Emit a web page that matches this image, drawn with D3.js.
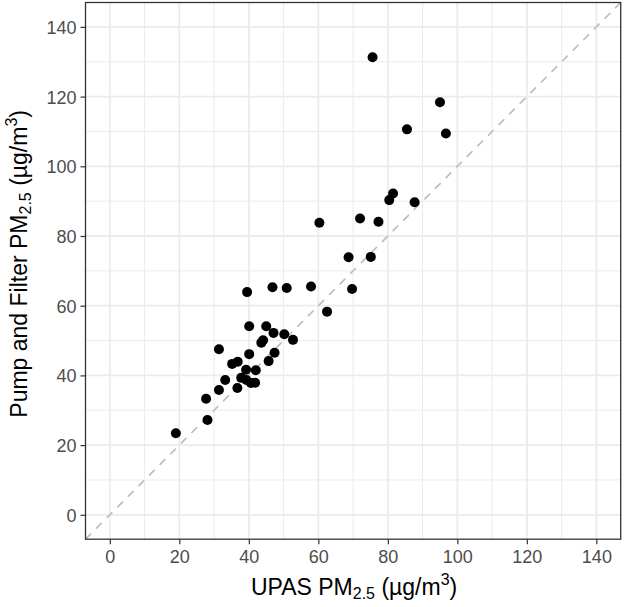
<!DOCTYPE html>
<html>
<head>
<meta charset="utf-8">
<script src="https://cdn.jsdelivr.net/npm/d3@7"></script>
<style>
  html, body { margin: 0; padding: 0; background: #fff; }
  svg { display: block; font-family: "Liberation Sans", Arial, sans-serif; }
</style>
</head>
<body>
<svg id="chart" width="625" height="607"></svg>
<script>
// UPAS PM2.5 (x) vs Pump and Filter PM2.5 (y), µg/m3
const upas = [75.6, 95.0, 85.5, 96.7, 81.5, 80.4, 87.7, 60.3, 72.0, 77.3,
              68.7, 75.1, 57.9, 69.7, 62.5, 39.5, 46.8, 50.9, 40.1, 45.0,
              47.1, 50.2, 52.7, 43.6, 44.1, 31.4, 40.1, 47.4, 45.7, 35.2,
              36.8, 39.2, 42.0, 33.2, 37.8, 39.3, 40.6, 41.8, 36.7, 31.4,
              27.7, 28.1, 19.0];
const pump = [131.3, 118.4, 110.6, 109.4, 92.2, 90.3, 89.7, 83.8, 85.0, 84.1,
              73.9, 74.0, 65.5, 64.8, 58.3, 63.9, 65.3, 65.1, 54.1, 54.1,
              52.2, 51.8, 50.2, 49.4, 50.1, 47.5, 46.1, 46.5, 44.1, 43.3,
              43.9, 41.6, 41.5, 38.7, 39.3, 38.7, 37.8, 37.9, 36.4, 35.8,
              33.3, 27.2, 23.4];
const majorTicks = [0, 20, 40, 60, 80, 100, 120, 140];
const minorTicks = [10, 30, 50, 70, 90, 110, 130];
const domain = [-7, 147];

const svg = d3.select("#chart");
const pL = 85.5, pR = 620.7, pT = 2.5, pB = 539.2;
const x = d3.scaleLinear().domain(domain).range([pL, pR]);
const y = d3.scaleLinear().domain(domain).range([pB, pT]);

// panel background
svg.append("rect").attr("x", pL).attr("y", pT)
  .attr("width", pR - pL).attr("height", pB - pT).attr("fill", "#fff");

const grid = svg.append("g");
// minor grid
grid.selectAll(".mvx").data(minorTicks).enter().append("line")
  .attr("x1", d => x(d)).attr("x2", d => x(d)).attr("y1", pT).attr("y2", pB)
  .attr("stroke", "#EBEBEB").attr("stroke-width", 1);
grid.selectAll(".mhy").data(minorTicks).enter().append("line")
  .attr("y1", d => y(d)).attr("y2", d => y(d)).attr("x1", pL).attr("x2", pR)
  .attr("stroke", "#EBEBEB").attr("stroke-width", 1);
// major grid
grid.selectAll(".Mvx").data(majorTicks).enter().append("line")
  .attr("x1", d => x(d)).attr("x2", d => x(d)).attr("y1", pT).attr("y2", pB)
  .attr("stroke", "#EBEBEB").attr("stroke-width", 1.8);
grid.selectAll(".Mhy").data(majorTicks).enter().append("line")
  .attr("y1", d => y(d)).attr("y2", d => y(d)).attr("x1", pL).attr("x2", pR)
  .attr("stroke", "#EBEBEB").attr("stroke-width", 1.8);

// identity line
svg.append("line")
  .attr("x1", x(domain[0])).attr("y1", y(domain[0]))
  .attr("x2", x(domain[1])).attr("y2", y(domain[1]))
  .attr("stroke", "#BEBEBE").attr("stroke-width", 1.7)
  .attr("stroke-dasharray", "8,7");

// points
svg.append("g").selectAll("circle").data(upas.map((v, i) => [v, pump[i]]))
  .enter().append("circle")
  .attr("cx", d => x(d[0])).attr("cy", d => y(d[1])).attr("r", 5)
  .attr("fill", "#000");

// panel border
svg.append("rect").attr("x", pL).attr("y", pT)
  .attr("width", pR - pL).attr("height", pB - pT)
  .attr("fill", "none").attr("stroke", "#333333").attr("stroke-width", 1.3);

// axes
const xAxis = d3.axisBottom(x).tickValues(majorTicks).tickSize(5).tickPadding(6);
const yAxis = d3.axisLeft(y).tickValues(majorTicks).tickSize(5).tickPadding(4);
const gx = svg.append("g").attr("transform", `translate(0,${pB})`).call(xAxis);
const gy = svg.append("g").attr("transform", `translate(${pL},0)`).call(yAxis);
[gx, gy].forEach(g => {
  g.select(".domain").remove();
  g.selectAll(".tick line").attr("stroke", "#333333").attr("stroke-width", 1.2);
  g.selectAll(".tick text").attr("fill", "#4D4D4D")
    .style("font-size", "18px").style("font-family", "'Liberation Sans', Arial, sans-serif");
});
gx.selectAll(".tick text").attr("dy", "0.71em");
gy.selectAll(".tick text").attr("dy", "0.36em");

// axis titles
function title(sel, main, sub, after, sup) {
  sel.append("tspan").text(main);
  sel.append("tspan").attr("dy", 4).style("font-size", "16px").text(sub);
  sel.append("tspan").attr("dy", -4).text(after);
  sel.append("tspan").attr("dy", -10).style("font-size", "16px").text(sup);
  sel.append("tspan").attr("dy", 10).text(")");
}
const xt = svg.append("text").attr("x", (pL + pR) / 2 + 1).attr("y", 595)
  .attr("text-anchor", "middle").style("font-size", "23px").attr("fill", "#000");
title(xt, "UPAS PM", "2.5", " (µg/m", "3");

const yt = svg.append("text")
  .attr("transform", `translate(26.5,${(pT + pB) / 2 - 7}) rotate(-90)`)
  .attr("text-anchor", "middle").style("font-size", "23px").attr("fill", "#000");
title(yt, "Pump and Filter PM", "2.5", " (µg/m", "3");
</script>
</body>
</html>
